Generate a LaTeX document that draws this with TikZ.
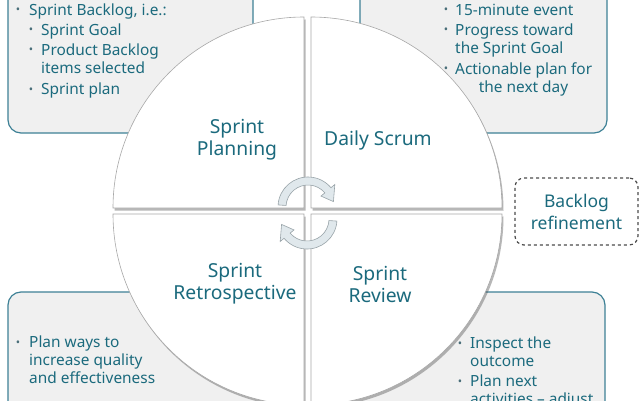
\documentclass[tikz,border=0pt]{standalone}
\usepackage{fontspec}
\setmainfont{Noto Sans}
\usetikzlibrary{shadows}
\definecolor{tealtxt}{HTML}{1B6A7D}
\definecolor{boxline}{HTML}{3E8196}
\definecolor{boxfill}{HTML}{F0F0F0}
\definecolor{quadline}{HTML}{A8A8A8}
\definecolor{arrfill}{HTML}{E0E8EC}
\definecolor{arrline}{HTML}{98A3A8}
\definecolor{bulcol}{HTML}{4A6F7A}
\begin{document}
\begin{tikzpicture}[x=1pt,y=1pt,
  infobox/.style={draw=boxline, fill=boxfill, line width=1.2pt, rounded corners=13pt},
  quad/.style={fill=white, draw=quadline, line width=0.6pt,
    drop shadow={shadow xshift=1.5pt, shadow yshift=-2.5pt, opacity=0.4, fill=black!70}},
  arr/.style={fill=arrfill, draw=arrline, line width=0.6pt},
  lbl/.style={text=tealtxt, font=\fontsize{19.3}{22}\selectfont, align=center, inner sep=0pt},
  txt/.style={text=tealtxt, font=\fontsize{15.4}{18}\selectfont, anchor=base west, inner sep=0pt},
  ctxt/.style={text=tealtxt, font=\fontsize{15.4}{18}\selectfont, anchor=base, inner sep=0pt},
  bul/.style={text=bulcol, font=\fontsize{11.5}{12}\selectfont, anchor=base, inner sep=0pt},
  refbox/.style={draw=black!70, dashed, line width=1.2pt, rounded corners=9pt,
    minimum width=123pt, minimum height=67pt, text=tealtxt,
    font=\fontsize{17.5}{22}\selectfont, align=center}]
\useasboundingbox (0,0) rectangle (640,400);
\clip (0,0) rectangle (640,400);
\fill[white] (0,0) rectangle (640,400);

% info boxes
\draw[infobox] (8,267) rectangle (253,430);
\draw[infobox] (360,267) rectangle (607,430);
\draw[infobox] (8,-30) rectangle (270,108);
\draw[infobox] (345,-30) rectangle (605,108);

% top-left text
\node[bul] (b1) at (18,386) {•};
\node[txt] (t1) at (29,384.5) {Sprint Backlog, i.e.:};
\node[bul] (b2) at (31,366) {•};
\node[txt] (t2) at (41,364.5) {Sprint Goal};
\node[bul] (b3) at (31,346) {•};
\node[txt] (t3) at (41,344.5) {Product Backlog};
\node[txt] (t4) at (41,326.5) {items selected};
\node[bul] (b4) at (31,307) {•};
\node[txt] (t5) at (41,305.5) {Sprint plan};

% top-right text
\node[bul] (b5) at (446,386) {•};
\node[txt] (t6) at (455,384.5) {15-minute event};
\node[bul] (b6) at (446,366) {•};
\node[txt] (t7) at (455,364.5) {Progress toward};
\node[txt] (t8) at (455,346.5) {the Sprint Goal};
\node[bul] (b7) at (446,327) {•};
\node[txt] (t9) at (455,325.5) {Actionable plan for};
\node[ctxt] (t10) at (523.5,307.5) {the next day};

% bottom-left text
\node[bul] (b8) at (18,54) {•};
\node[txt] (t11) at (29,52.5) {Plan ways to};
\node[txt] (t12) at (29,34.5) {increase quality};
\node[txt] (t13) at (29,16.5) {and effectiveness};

% bottom-right text
\node[bul] (b9) at (460,53) {•};
\node[txt] (t14) at (470,51.5) {Inspect the};
\node[txt] (t15) at (470,33.5) {outcome};
\node[bul] (b10) at (460,15) {•};
\node[txt] (t16) at (470,13.5) {Plan next};
\node[txt] (t17) at (470,-4.5) {activities – adjust};

% quadrants
\filldraw[quad] (304,192) -- (113,192) arc[start angle=180,end angle=90,radius=191] -- cycle;
\filldraw[quad] (311,192) -- (311,383) arc[start angle=90,end angle=0,radius=191] -- cycle;
\filldraw[quad] (304,186) -- (304,-5) arc[start angle=270,end angle=180,radius=191] -- cycle;
\filldraw[quad] (311,186) -- (502,186) arc[start angle=0,end angle=-90,radius=191] -- cycle;

% quadrant labels
\node[lbl] (plan) at (237,260) {Sprint\\Planning};
\node[lbl] (daily) at (378,260) {Daily Scrum};
\node[lbl] (retro) at (235,116) {Sprint\\Retrospective};
\node[lbl] (review) at (380,116) {Sprint\\Review};

% cycle arrows
\begin{scope}[shift={(308,193)}]
  \filldraw[arr] (176:30) arc[start angle=176,end angle=40,radius=30]
    -- (40:35) -- (12:26) -- (40:17) -- (40:22)
    arc[start angle=40,end angle=176,radius=22] -- cycle;
\end{scope}
\begin{scope}[shift={(307,181)}, rotate=180]
  \filldraw[arr] (176:30) arc[start angle=176,end angle=40,radius=30]
    -- (40:35) -- (12:26) -- (40:17) -- (40:22)
    arc[start angle=40,end angle=176,radius=22] -- cycle;
\end{scope}

% backlog refinement
\node[refbox] (refine) at (576.5,188.5) {Backlog\\refinement};
\end{tikzpicture}
\end{document}
